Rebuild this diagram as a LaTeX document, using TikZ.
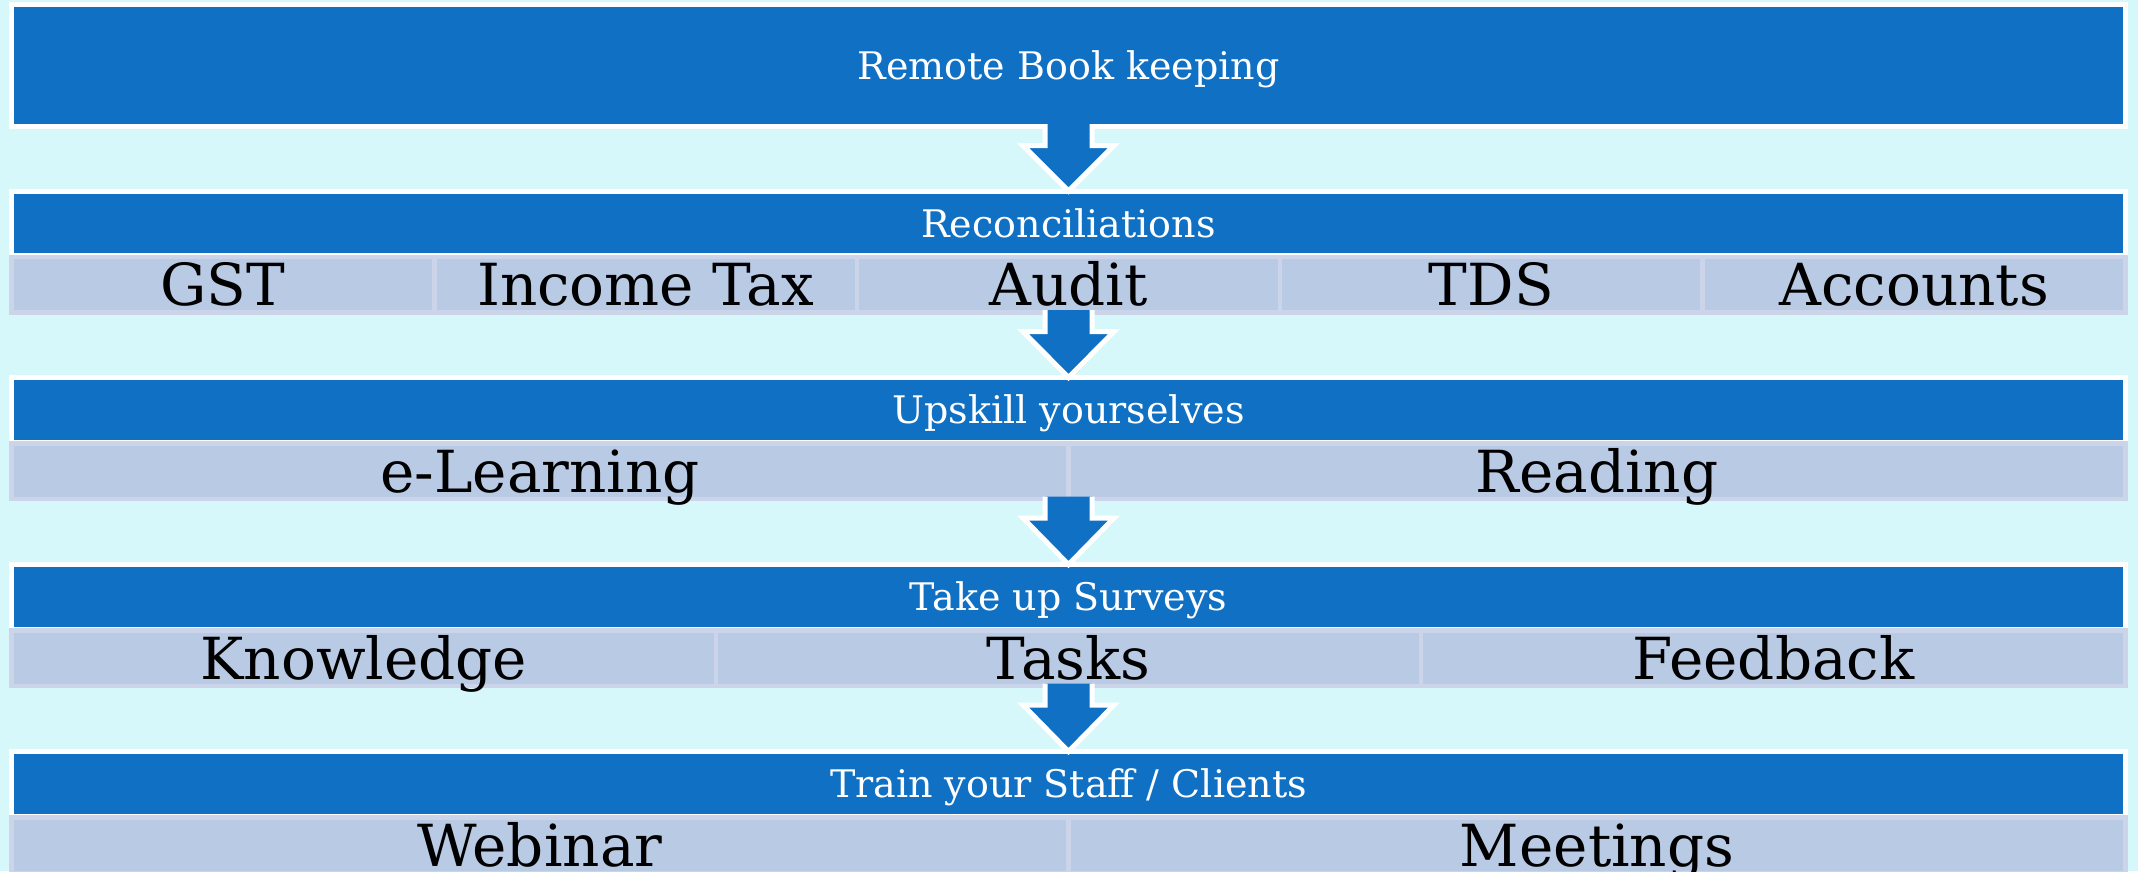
\documentclass[tikz,border=0pt]{standalone}
\usepackage{fontspec}
\setmainfont{DejaVu Serif}
\usetikzlibrary{calc}
\definecolor{bgcyan}{RGB}{214,248,250}
\definecolor{hdrblue}{RGB}{16,112,196}
\definecolor{subfill}{RGB}{185,202,229}
\definecolor{subborder}{RGB}{204,212,234}
\tikzset{
  hdr/.style={draw=white, fill=hdrblue, line width=5pt, text=white,
    font=\fontsize{38}{40}\selectfont, text height=27.7pt, text depth=0pt,
    inner sep=0pt, outer sep=0pt, minimum width=2114pt, anchor=north west},
  cell/.style={draw=subborder, fill=subfill, line width=4.5pt, text=black,
    font=\fontsize{58}{60}\selectfont, text height=42.3pt, text depth=0pt,
    inner sep=0pt, outer sep=0pt, minimum height=55.5pt, anchor=north west},
  arrowfill/.style={fill=hdrblue},
  arrowline/.style={draw=white, line width=5pt, line join=miter},
}
\newcommand{\myBlockArrow}[2]{%
  \fill[arrowfill] ($(#1)+(-23.5,-2.5)$) -- ($(#1)+(-23.5,19)$) -- ($(#1)+(-45.5,19)$)
     -- (#2) -- ($(#1)+(45.5,19)$) -- ($(#1)+(23.5,19)$) -- ($(#1)+(23.5,-2.5)$) -- cycle;
  \draw[arrowline] ($(#1)+(-23.5,-2.5)$) -- ($(#1)+(-23.5,19)$) -- ($(#1)+(-45.5,19)$)
     -- (#2) -- ($(#1)+(45.5,19)$) -- ($(#1)+(23.5,19)$) -- ($(#1)+(23.5,-2.5)$);
}
\begin{document}
\begin{tikzpicture}[x=1pt,y=-1pt]
\useasboundingbox (0,0) rectangle (2138,871);
\fill[bgcyan] (0,0) rectangle (2138,871);

% Box 1
\node[hdr, minimum height=122pt] (h1) at (11.5,4.5) {Remote Book keeping};

% Box 2 (T=188.5)
\node[hdr, minimum height=64.5pt] (h2) at (11.5,191) {Reconciliations};
\node[cell, minimum width=422.8pt] (gst) at (11.5,257) {GST};
\node[cell, minimum width=422.8pt] (itax) at (434.3,257) {Income Tax};
\node[cell, minimum width=422.8pt] (audit) at (857.1,257) {Audit};
\node[cell, minimum width=422.8pt] (tds) at (1279.9,257) {TDS};
\node[cell, minimum width=422.8pt] (accts) at (1702.7,257) {Accounts};

% Box 3 (T=375)
\node[hdr, minimum height=64.5pt] (h3) at (11.5,377.5) {Upskill yourselves};
\node[cell, minimum width=1057pt] (elearn) at (11.5,443.5) {e-Learning};
\node[cell, minimum width=1057pt] (reading) at (1068.5,443.5) {Reading};

% Box 4 (T=562)
\node[hdr, minimum height=64.5pt] (h4) at (11.5,564.5) {Take up Surveys};
\node[cell, minimum width=704.67pt] (know) at (11.5,630.5) {Knowledge};
\node[cell, minimum width=704.67pt] (tasks) at (716.17,630.5) {Tasks};
\node[cell, minimum width=704.67pt] (feed) at (1420.83,630.5) {Feedback};

% Box 5 (T=749)
\node[hdr, minimum height=64.5pt] (h5) at (11.5,751.5) {Train your Staff / Clients};
\node[cell, minimum width=1057pt] (webinar) at (11.5,817.5) {Webinar};
\node[cell, minimum width=1057pt] (meet) at (1068.5,817.5) {Meetings};

% Arrows
\myBlockArrow{h1.south}{h2.north}
\myBlockArrow{audit.south}{h3.north}
\myBlockArrow{elearn.south east}{h4.north}
\myBlockArrow{tasks.south}{h5.north}
\end{tikzpicture}
\end{document}
